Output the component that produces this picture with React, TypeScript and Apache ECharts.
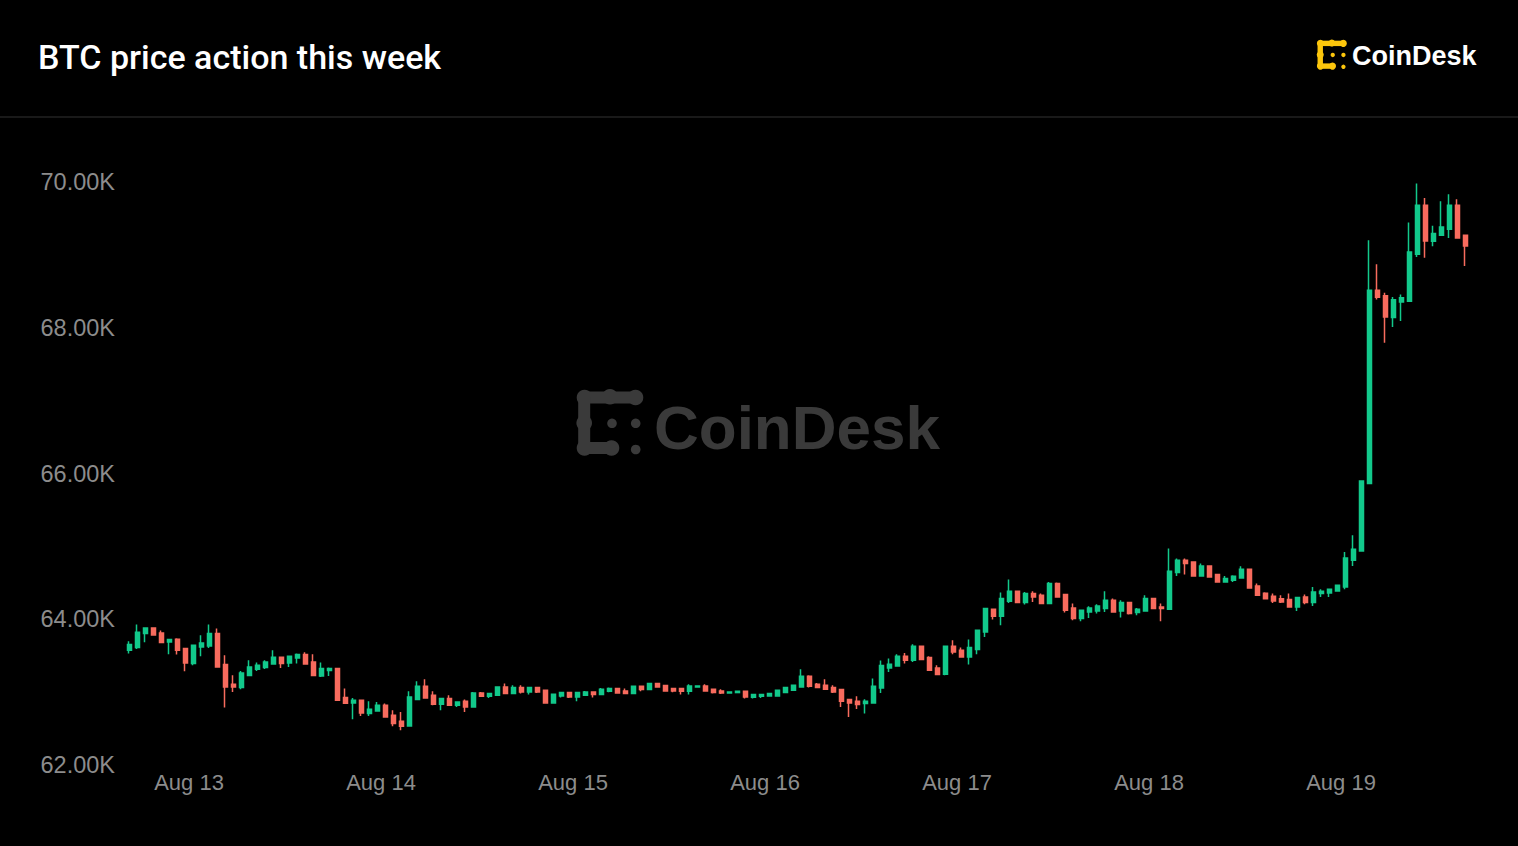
import React, { useEffect, useRef } from "react";
import * as echarts from "echarts";

// Hourly BTC candles, first candle starts Aug 12 16:00 (hours counted from Aug 12 00:00)
const startHour = 16;
const dayLabels = ["Aug 13", "Aug 14", "Aug 15", "Aug 16", "Aug 17", "Aug 18", "Aug 19"];
const dayTickHours = [24, 48, 72, 96, 120, 144, 168];
const yTicks = [62000, 64000, 66000, 68000, 70000];

// [open, close, low, high]
const ohlc: number[][] = [
  [63575, 63652, 63529, 63698], [63611, 63822, 63593, 63927], [63803, 63881, 63684, 63881], [63881, 63785, 63785, 63881],
  [63812, 63680, 63671, 63844], [63689, 63721, 63520, 63721], [63726, 63575, 63515, 63739], [63597, 63401, 63286, 63597],
  [63392, 63643, 63369, 63643], [63620, 63675, 63492, 63780], [63634, 63803, 63607, 63927], [63803, 63346, 63346, 63872],
  [63378, 63071, 62788, 63506], [63108, 63071, 63003, 63232], [63062, 63264, 63039, 63291], [63227, 63346, 63227, 63437],
  [63314, 63369, 63291, 63405], [63337, 63415, 63318, 63437], [63387, 63479, 63387, 63575], [63479, 63392, 63332, 63479],
  [63401, 63492, 63346, 63492], [63469, 63515, 63392, 63529], [63515, 63387, 63387, 63547], [63415, 63227, 63227, 63520],
  [63222, 63323, 63209, 63405], [63296, 63323, 63222, 63337], [63323, 62889, 62879, 63323], [62925, 62847, 62847, 63049],
  [62852, 62889, 62628, 62921], [62889, 62715, 62674, 62889], [62706, 62765, 62674, 62875], [62742, 62820, 62742, 62866],
  [62820, 62660, 62660, 62843], [62683, 62568, 62532, 62751], [62600, 62532, 62477, 62728], [62536, 62934, 62536, 63012],
  [62898, 63081, 62898, 63149], [63081, 62921, 62921, 63177], [62957, 62834, 62820, 63012], [62834, 62911, 62751, 62921],
  [62911, 62820, 62820, 62957], [62820, 62866, 62797, 62866], [62875, 62797, 62728, 62898], [62797, 62989, 62797, 63003],
  [62989, 62944, 62934, 63003], [62944, 62980, 62921, 62980], [62957, 63072, 62957, 63081], [63072, 62980, 62980, 63117],
  [62980, 63062, 62980, 63094], [63062, 63003, 62980, 63094], [63003, 63062, 62966, 63062], [63062, 63003, 62989, 63062],
  [63026, 62852, 62852, 63026], [62852, 62971, 62852, 62971], [62948, 62994, 62925, 62994], [62994, 62934, 62920, 62994],
  [62934, 62994, 62875, 62994], [62957, 63003, 62948, 63017], [63003, 62966, 62925, 63003], [62966, 63039, 62957, 63058],
  [63012, 63049, 62998, 63062], [63049, 62989, 62989, 63049], [63017, 62980, 62971, 63049], [62980, 63081, 62980, 63081],
  [63081, 63035, 63012, 63081], [63035, 63117, 63026, 63117], [63117, 63072, 63062, 63117], [63090, 63017, 63017, 63090],
  [63049, 63017, 62998, 63049], [63049, 63012, 62966, 63049], [63012, 63085, 62966, 63108], [63072, 63085, 63062, 63085],
  [63085, 63017, 63017, 63108], [63039, 62994, 62980, 63039], [63017, 62989, 62975, 63039], [62989, 63003, 62989, 63012],
  [62994, 63012, 62994, 63012], [63012, 62934, 62911, 63012], [62930, 62968, 62911, 62968], [62943, 62966, 62920, 62966],
  [62948, 62980, 62948, 62980], [62948, 63026, 62948, 63026], [62994, 63062, 62989, 63062], [63026, 63094, 63026, 63094],
  [63071, 63218, 63071, 63314], [63218, 63081, 63062, 63232], [63108, 63062, 63062, 63126], [63094, 63039, 63039, 63177],
  [63062, 63003, 62989, 63094], [63035, 62875, 62797, 63035], [62898, 62852, 62660, 62902], [62875, 62829, 62770, 62943],
  [62843, 62875, 62706, 62902], [62852, 63081, 62852, 63186], [63058, 63364, 62989, 63433], [63332, 63383, 63277, 63460],
  [63360, 63492, 63360, 63520], [63492, 63437, 63392, 63538], [63437, 63629, 63415, 63657], [63629, 63447, 63447, 63629],
  [63474, 63300, 63291, 63492], [63332, 63241, 63232, 63369], [63245, 63629, 63232, 63629], [63629, 63552, 63520, 63712],
  [63575, 63483, 63474, 63611], [63483, 63611, 63378, 63721], [63584, 63849, 63520, 63849], [63826, 64146, 63758, 64146],
  [64137, 64041, 63995, 64146], [64041, 64284, 63918, 64366], [64247, 64384, 64224, 64544], [64384, 64229, 64229, 64384],
  [64229, 64352, 64201, 64375], [64352, 64306, 64238, 64384], [64329, 64215, 64215, 64352], [64215, 64489, 64215, 64512],
  [64489, 64306, 64297, 64503], [64338, 64123, 64091, 64338], [64155, 64009, 63986, 64215], [64009, 64123, 63973, 64123],
  [64100, 64155, 64018, 64178], [64114, 64183, 64078, 64206], [64146, 64261, 64100, 64384], [64261, 64100, 64100, 64284],
  [64114, 64229, 64023, 64261], [64229, 64078, 64064, 64229], [64091, 64137, 64055, 64155], [64114, 64284, 64114, 64329],
  [64284, 64146, 64146, 64284], [64169, 64146, 63973, 64215], [64137, 64659, 64137, 64970], [64640, 64810, 64595, 64832],
  [64810, 64764, 64613, 64832], [64786, 64594, 64594, 64786], [64594, 64732, 64594, 64764], [64732, 64581, 64581, 64741],
  [64613, 64512, 64512, 64613], [64512, 64558, 64512, 64594], [64535, 64590, 64512, 64603], [64567, 64686, 64567, 64727],
  [64686, 64430, 64430, 64686], [64457, 64329, 64329, 64489], [64356, 64283, 64283, 64370], [64315, 64251, 64224, 64352],
  [64283, 64238, 64224, 64329], [64270, 64169, 64169, 64352], [64169, 64297, 64114, 64297], [64306, 64229, 64206, 64338],
  [64229, 64375, 64183, 64443], [64352, 64384, 64306, 64411], [64361, 64411, 64306, 64411], [64388, 64466, 64388, 64475],
  [64443, 64841, 64411, 64924], [64809, 64960, 64732, 65152], [64938, 65898, 64938, 65907], [65862, 68515, 65853, 69201],
  [68515, 68420, 68387, 68871], [68440, 68149, 67795, 68480], [68140, 68383, 68012, 68423], [68355, 68410, 68092, 68455],
  [68364, 69041, 68364, 69444], [69009, 69681, 68972, 69979], [69681, 69192, 68959, 69782], [69187, 69293, 69119, 69398],
  [69270, 69384, 69270, 69736], [69352, 69681, 69233, 69832], [69681, 69233, 69224, 69764], [69270, 69123, 68849, 69270],
];

const UP = "#12c98b";
const DOWN = "#f86b5e";

function logoIcon(x: number, y: number, s: number, fill: string) {
  const big = [
    [7.5, 7.5], [33, 6.8], [58.5, 7.5], [7.2, 33], [7.5, 58], [34.5, 58],
  ];
  const small = [
    [35, 33.3], [58.7, 33.3], [58.7, 59.5],
  ];
  const children: any[] = [];
  big.forEach(([cx, cy]) => children.push({ type: "circle", shape: { cx, cy, r: 7.8 }, style: { fill } }));
  small.forEach(([cx, cy]) => children.push({ type: "circle", shape: { cx, cy, r: 4.8 }, style: { fill } }));
  children.push({ type: "rect", shape: { x: 7.5, y: 1.5, width: 51, height: 12 }, style: { fill } });
  children.push({ type: "rect", shape: { x: 1.2, y: 7.5, width: 12, height: 50 }, style: { fill } });
  children.push({ type: "rect", shape: { x: 7.5, y: 52, width: 27, height: 12 }, style: { fill } });
  return { type: "group", x, y, scaleX: s, scaleY: s, children };
}

export default function App() {
  const ref = useRef<HTMLDivElement>(null);

  useEffect(() => {
    document.body.style.margin = "0";
    document.body.style.background = "#000";
    if (!ref.current) return;
    const chart = echarts.init(ref.current, undefined, { renderer: "svg" });
    const data = ohlc.map((c, i) => [startHour + i + 0.5, c[0], c[1], c[2], c[3]]);
    chart.setOption({
      animation: false,
      backgroundColor: "#000000",
      grid: { left: 125, right: 49, top: 182, bottom: 81, containLabel: false },
      xAxis: {
        type: "value",
        min: startHour,
        max: startHour + ohlc.length,
        axisLine: { show: false },
        axisTick: { show: false },
        splitLine: { show: false },
        axisLabel: {
          customValues: dayTickHours,
          formatter: (v: number) => {
            const idx = dayTickHours.indexOf(Math.round(v));
            return idx >= 0 ? dayLabels[idx] : "";
          },
          color: "#8c8c8c",
          fontSize: 22,
          fontFamily: "Liberation Sans",
          margin: 6,
        },
      },
      yAxis: {
        type: "value",
        min: yTicks[0],
        max: yTicks[yTicks.length - 1],
        interval: 2000,
        axisLine: { show: false },
        axisTick: { show: false },
        splitLine: { show: false },
        axisLabel: {
          formatter: (v: number) => (v / 1000).toFixed(2) + "K",
          color: "#8c8c8c",
          fontSize: 23.5,
          fontFamily: "Liberation Sans",
          margin: 10,
        },
      },
      graphic: [
        {
          type: "text",
          x: 38,
          y: 57,
          style: {
            text: "BTC price action this week",
            fill: "#ffffff",
            font: "500 34px Roboto",
            verticalAlign: "middle",
          },
        },
        {
          type: "line",
          shape: { x1: 0, y1: 117, x2: 1518, y2: 117 },
          style: { stroke: "#222222", lineWidth: 1.5 },
        },
        logoIcon(1317, 40, 0.45, "#fcc60c"),
        {
          type: "text",
          x: 1352,
          y: 56,
          style: {
            text: "CoinDesk",
            fill: "#ffffff",
            font: "bold 27px Liberation Sans",
            verticalAlign: "middle",
          },
        },
        logoIcon(577, 390, 1, "#3a3a3a"),
        {
          type: "text",
          x: 654,
          y: 427,
          style: {
            text: "CoinDesk",
            fill: "#3a3a3a",
            font: "bold 62px Liberation Sans",
            verticalAlign: "middle",
          },
        },
      ],
      series: [
        {
          type: "candlestick",
          data,
          encode: { x: 0, y: [1, 2, 3, 4] },
          barWidth: 4.5,
          z: 3,
          itemStyle: {
            color: UP,
            color0: DOWN,
            borderColor: UP,
            borderColor0: DOWN,
            borderWidth: 1.5,
          },
        },
      ],
    });
    return () => chart.dispose();
  }, []);

  return <div ref={ref} style={{ width: 1518, height: 846, background: "#000" }} />;
}
